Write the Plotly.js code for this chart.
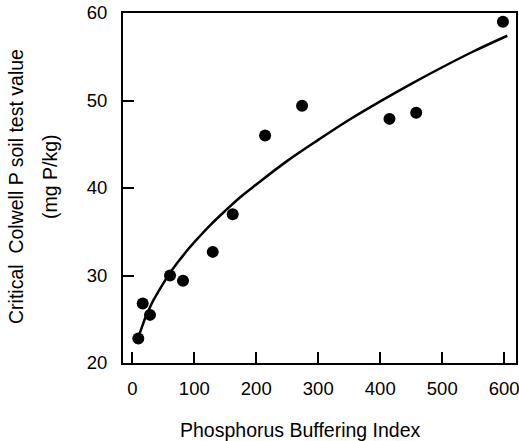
<!DOCTYPE html>
<html>
<head>
<meta charset="utf-8">
<script src="https://cdn.plot.ly/plotly-3.0.1.min.js"></script>
<style>html,body{margin:0;padding:0;background:#fff;}</style>
</head>
<body>
<div id="chart" style="width:519px;height:441px;"></div>
<script>
// Observed data points
const pbiValues = [9.7, 16.8, 28.6, 60.9, 81.8, 129.8, 162, 214.2, 273.9, 414.9, 458, 597.9];
const colwellValues = [22.8, 26.8, 25.5, 30.0, 29.4, 32.7, 37.0, 46.0, 49.4, 47.9, 48.6, 59.0];

// Fitted curve
const curveX = [10, 12.5, 15, 17.5, 20, 25, 30, 35, 40, 50, 60, 70, 80, 90, 100, 125, 150, 175, 200, 250, 300, 350, 400, 450, 500, 550, 605];
const curveY = [22.9, 23.5, 24.0, 24.5, 25.0, 25.8, 26.6, 27.3, 27.9, 29.1, 30.2, 31.2, 32.1, 33.0, 33.8, 35.7, 37.4, 39.0, 40.4, 43.1, 45.5, 47.8, 49.9, 51.9, 53.8, 55.6, 57.4];

// Axis ticks
const xTicks = [0, 100, 200, 300, 400, 500, 600];
const yTicks = [20, 30, 40, 50, 60];

const xTitle = 'Phosphorus Buffering Index';
const yTitleLine1 = 'Critical&nbsp; Colwell P soil test value';
const yTitleLine2 = '(mg P/kg)';

const font = 'Arial, "Liberation Sans", sans-serif';

const traces = [
  {
    x: curveX, y: curveY, mode: 'lines', type: 'scatter',
    line: {color: '#000', width: 2.5, shape: 'spline', smoothing: 1},
    hoverinfo: 'skip', showlegend: false
  },
  {
    x: pbiValues, y: colwellValues, mode: 'markers', type: 'scatter',
    marker: {color: '#000', size: 12},
    showlegend: false, cliponaxis: false
  }
];

const axisCommon = {
  showgrid: false, zeroline: false,
  showline: true, mirror: true, linecolor: '#000', linewidth: 2,
  ticks: 'inside', ticklen: 11, tickwidth: 2, tickcolor: '#000',
  ticklabeloverflow: 'allow',
  tickfont: {family: font, size: 18.5, color: '#000'}
};

const layout = {
  width: 519, height: 441,
  margin: {l: 123, r: 3, t: 13, b: 78},
  paper_bgcolor: '#fff', plot_bgcolor: '#fff',
  font: {family: font, color: '#000'},
  xaxis: Object.assign({}, axisCommon, {
    range: [-15, 619], tickmode: 'array', tickvals: xTicks,
    ticktext: xTicks.map(String), ticklabelstandoff: 8
  }),
  yaxis: Object.assign({}, axisCommon, {
    range: [20, 60], tickmode: 'array', tickvals: yTicks,
    ticktext: yTicks.map(String), ticklabelstandoff: 10
  }),
  annotations: [
    {text: xTitle, xref: 'paper', yref: 'paper', x: 0.4504, y: -0.19,
     xanchor: 'center', yanchor: 'middle', showarrow: false,
     font: {family: font, size: 19.5, color: '#000'}},
    {text: yTitleLine1, xref: 'paper', yref: 'paper', x: -0.2723, y: 0.5057,
     xanchor: 'center', yanchor: 'middle', showarrow: false, textangle: -90,
     font: {family: font, size: 19.5, color: '#000'}},
    {text: yTitleLine2, xref: 'paper', yref: 'paper', x: -0.1858, y: 0.5343,
     xanchor: 'center', yanchor: 'middle', showarrow: false, textangle: -90,
     font: {family: font, size: 19.5, color: '#000'}}
  ]
};

Plotly.newPlot('chart', traces, layout, {displayModeBar: false, staticPlot: true});
</script>
</body>
</html>
